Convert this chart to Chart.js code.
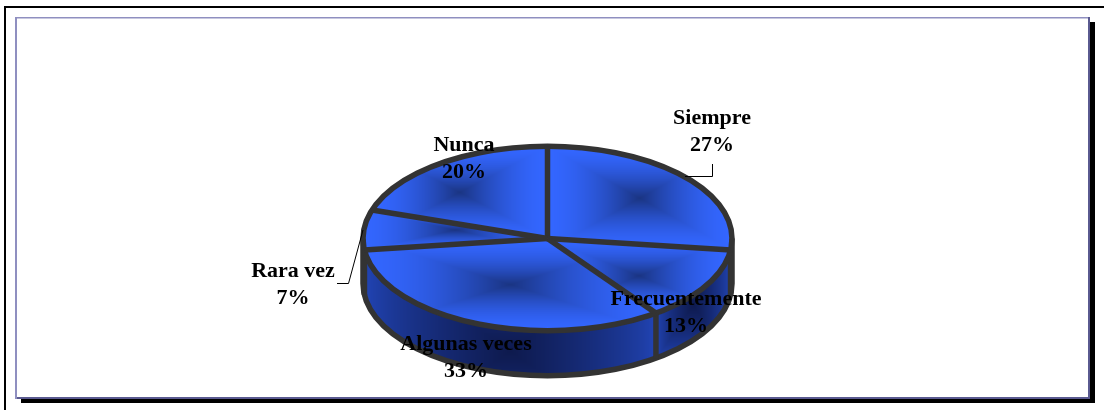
<!DOCTYPE html>
<html>
<head>
<meta charset="utf-8">
<style>
  html, body { margin: 0; padding: 0; background: #fff; }
  canvas { display: block; }
</style>
<script src="https://cdn.jsdelivr.net/npm/chart.js@4/dist/chart.umd.min.js"></script>
</head>
<body>
<canvas id="chart" width="1104" height="410"></canvas>
<script>
const categories = ['Siempre', 'Frecuentemente', 'Algunas veces', 'Rara vez', 'Nunca'];
const percentages = [27, 13, 33, 7, 20];

// Label centres (name line middle, percentage line follows below)
const labelCentres = [[712, 118], [686, 299], [466, 344], [293, 271], [464, 145]];
const labelLineGap = 27;
const leaderLines = [
  [[712.5, 164], [712.5, 176.5], [685, 176.5]],
  [[337, 283.5], [348.5, 283.5], [363, 230]]
];

// Tilted disc geometry on the page
const discCentreX = 547.5;
const discCentreY = 238.5;
const discRadius = 184.5;
const tilt = 0.5;
const wallDepth = 45;
const outline = '#333333';
const outlineWidth = 5.5;

const topEdge = [51, 102, 255], topCore = [26, 52, 130];
const wallEdge = [34, 70, 185], wallCore = [14, 26, 78];
const topShadePower = 1.7;
const wallShadePower = 0.7;
// The front wall's shading centre sits low on the rim
const frontWallStretch = 0.6;

function mix(a, b, f) {
  return [0, 1, 2].map(i => a[i] + (b[i] - a[i]) * f);
}

// Rectangular-path gradient around the centre of a box
function rectShade(box, x, y, edge, core, power) {
  const hw = (box.x1 - box.x0) / 2, hh = (box.y1 - box.y0) / 2;
  const dx = Math.abs(x - (box.x0 + hw)) / hw, dy = Math.abs(y - (box.y0 + hh)) / hh;
  const t = Math.max(0, 1 - Math.max(dx, dy));
  return mix(edge, core, Math.pow(t, power));
}

function sliceBox(cx, cy, r, a0, a1) {
  const pts = [[cx, cy], [cx + r * Math.cos(a0), cy + r * Math.sin(a0)], [cx + r * Math.cos(a1), cy + r * Math.sin(a1)]];
  for (let k = -1; k <= 3; k++) {
    const a = k * Math.PI / 2;
    if (a >= a0 && a <= a1) pts.push([cx + r * Math.cos(a), cy + r * Math.sin(a)]);
  }
  return {
    x0: Math.min(...pts.map(p => p[0])), x1: Math.max(...pts.map(p => p[0])),
    y0: Math.min(...pts.map(p => p[1])), y1: Math.max(...pts.map(p => p[1]))
  };
}

function sliceAngles() {
  const total = percentages.reduce((s, v) => s + v, 0);
  let a = -Math.PI / 2;
  return percentages.map(v => {
    const start = a;
    a += v / total * Math.PI * 2;
    return [start, a];
  });
}

// Texture in untilted chart coordinates, shared by all slices as their fill pattern
let topPattern = null;
function topTexture(chart) {
  const area = chart.chartArea;
  if (!area) return 'rgb(51,102,255)';
  if (topPattern) return topPattern;
  const cx = (area.left + area.right) / 2, cy = (area.top + area.bottom) / 2;
  const r = Math.min(area.right - area.left, area.bottom - area.top) / 2;
  const w = chart.width, h = chart.height;
  const off = document.createElement('canvas');
  off.width = w; off.height = h;
  const octx = off.getContext('2d');
  const img = octx.createImageData(w, h);
  const angles = sliceAngles();
  const boxes = angles.map(([a0, a1]) => sliceBox(cx, cy, r, a0, a1));
  for (let y = 0; y < h; y++) {
    for (let x = 0; x < w; x++) {
      const dx = x + 0.5 - cx, dy = y + 0.5 - cy;
      if (dx * dx + dy * dy > (r + 4) * (r + 4)) continue;
      let a = Math.atan2(dy, dx);
      if (a < -Math.PI / 2) a += Math.PI * 2;
      const i = angles.findIndex(([a0, a1]) => a >= a0 && a < a1);
      const c = rectShade(boxes[i < 0 ? 0 : i], x + 0.5, y + 0.5, topEdge, topCore, topShadePower);
      const o = (y * w + x) * 4;
      img.data[o] = c[0]; img.data[o + 1] = c[1]; img.data[o + 2] = c[2]; img.data[o + 3] = 255;
    }
  }
  octx.putImageData(img, 0, 0);
  topPattern = octx.createPattern(off, 'no-repeat');
  return topPattern;
}

function drawWalls(ctx, arcs) {
  const rx = discRadius, ry = discRadius * tilt;
  arcs.forEach(arc => {
    const s = Math.max(arc.startAngle, 0), e = Math.min(arc.endAngle, Math.PI);
    if (e <= s) return;
    const x0 = discCentreX + rx * Math.min(Math.cos(s), Math.cos(e));
    const x1 = discCentreX + rx * Math.max(Math.cos(s), Math.cos(e));
    const yLow = discCentreY + ry * Math.min(Math.sin(s), Math.sin(e));
    const hasBottom = s <= Math.PI / 2 && e >= Math.PI / 2;
    const yHigh = discCentreY + wallDepth + ry * (hasBottom ? 1 : Math.max(Math.sin(s), Math.sin(e)));
    const stretch = hasBottom ? (yHigh - yLow) * frontWallStretch : 0;
    const box = { x0: x0, x1: x1, y0: yLow, y1: yHigh + stretch };
    const bw = Math.ceil(x1 - x0) + 2, bh = Math.ceil(yHigh - yLow) + 2;
    const off = document.createElement('canvas');
    off.width = bw; off.height = bh;
    const octx = off.getContext('2d');
    const img = octx.createImageData(bw, bh);
    for (let y = 0; y < bh; y++) {
      for (let x = 0; x < bw; x++) {
        const c = rectShade(box, x0 + x + 0.5, yLow + y + 0.5, wallEdge, wallCore, wallShadePower);
        const o = (y * bw + x) * 4;
        img.data[o] = c[0]; img.data[o + 1] = c[1]; img.data[o + 2] = c[2]; img.data[o + 3] = 255;
      }
    }
    octx.putImageData(img, 0, 0);
    ctx.save();
    ctx.beginPath();
    ctx.ellipse(discCentreX, discCentreY, rx, ry, 0, s, e);
    ctx.ellipse(discCentreX, discCentreY + wallDepth, rx, ry, 0, e, s, true);
    ctx.closePath();
    ctx.clip();
    ctx.drawImage(off, x0, yLow);
    ctx.restore();
  });
}

function strokeOutlines(ctx, arcs) {
  const rx = discRadius, ry = discRadius * tilt;
  ctx.save();
  ctx.strokeStyle = outline;
  ctx.lineWidth = outlineWidth;
  ctx.lineJoin = 'round';
  ctx.lineCap = 'butt';
  // Side wall silhouette and the dividers between wall segments
  ctx.beginPath();
  ctx.moveTo(discCentreX + rx, discCentreY);
  ctx.lineTo(discCentreX + rx, discCentreY + wallDepth);
  ctx.ellipse(discCentreX, discCentreY + wallDepth, rx, ry, 0, 0, Math.PI);
  ctx.lineTo(discCentreX - rx, discCentreY);
  ctx.stroke();
  arcs.forEach(arc => {
    const a = arc.startAngle;
    if (a > 0 && a < Math.PI) {
      const x = discCentreX + rx * Math.cos(a), y = discCentreY + ry * Math.sin(a);
      ctx.beginPath();
      ctx.moveTo(x, y);
      ctx.lineTo(x, y + wallDepth);
      ctx.stroke();
    }
  });
  // Rim and spokes of the top face
  ctx.beginPath();
  ctx.ellipse(discCentreX, discCentreY, rx, ry, 0, 0, Math.PI * 2);
  ctx.stroke();
  arcs.forEach(arc => {
    ctx.beginPath();
    ctx.moveTo(discCentreX, discCentreY);
    ctx.lineTo(discCentreX + rx * Math.cos(arc.startAngle), discCentreY + ry * Math.sin(arc.startAngle));
    ctx.stroke();
  });
  ctx.restore();
}

const framePlugin = {
  id: 'frame',
  beforeDraw(chart) {
    const ctx = chart.ctx;
    ctx.save();
    ctx.fillStyle = '#ffffff';
    ctx.fillRect(0, 0, chart.width, chart.height);
    // Page rules along the top and left
    ctx.fillStyle = '#000000';
    ctx.fillRect(4, 6, 1100, 2);
    ctx.fillRect(4, 6, 2, 404);
    // Panel drop shadow
    ctx.fillRect(1090, 22, 5, 381);
    ctx.fillRect(21, 399, 1074, 4);
    // Panel border, light on the top and left, dark on the right and bottom
    ctx.fillStyle = '#8f8fc0';
    ctx.fillRect(15, 17, 1075, 1.5);
    ctx.fillRect(15, 17, 2, 382);
    ctx.fillStyle = '#5a5a90';
    ctx.fillRect(1088, 17, 2, 382);
    ctx.fillRect(17, 397, 1073, 2);
    ctx.restore();
  }
};

const discPlugin = {
  id: 'tiltedDisc',
  beforeDatasetsDraw(chart) {
    const ctx = chart.ctx;
    const area = chart.chartArea;
    drawWalls(ctx, chart.getDatasetMeta(0).data);
    ctx.save();
    ctx.translate(0, discCentreY);
    ctx.scale(1, tilt);
    ctx.translate(0, -(area.top + area.bottom) / 2);
  },
  afterDatasetsDraw(chart) {
    const ctx = chart.ctx;
    ctx.restore();
    strokeOutlines(ctx, chart.getDatasetMeta(0).data);
  }
};

const labelPlugin = {
  id: 'sliceLabels',
  afterDraw(chart) {
    const ctx = chart.ctx;
    ctx.save();
    ctx.strokeStyle = '#000000';
    ctx.lineWidth = 1;
    leaderLines.forEach(pts => {
      ctx.beginPath();
      pts.forEach((p, i) => i ? ctx.lineTo(p[0], p[1]) : ctx.moveTo(p[0], p[1]));
      ctx.stroke();
    });
    ctx.fillStyle = '#000000';
    ctx.font = 'bold 22px "Liberation Serif", serif';
    ctx.textAlign = 'center';
    ctx.textBaseline = 'middle';
    categories.forEach((name, i) => {
      const [x, y] = labelCentres[i];
      ctx.fillText(name, x, y);
      ctx.fillText(percentages[i] + '%', x, y + labelLineGap);
    });
    ctx.restore();
  }
};

new Chart(document.getElementById('chart'), {
  type: 'pie',
  data: {
    labels: categories,
    datasets: [{
      data: percentages,
      backgroundColor: ctx => topTexture(ctx.chart),
      borderWidth: 0
    }]
  },
  options: {
    responsive: false,
    animation: false,
    events: [],
    layout: {
      padding: {
        left: discCentreX - discRadius,
        right: 1104 - discCentreX - discRadius,
        top: 205 - discRadius,
        bottom: 205 - discRadius
      }
    },
    plugins: { legend: { display: false }, tooltip: { enabled: false }, title: { display: false } }
  },
  plugins: [framePlugin, discPlugin, labelPlugin]
});
</script>
</body>
</html>
